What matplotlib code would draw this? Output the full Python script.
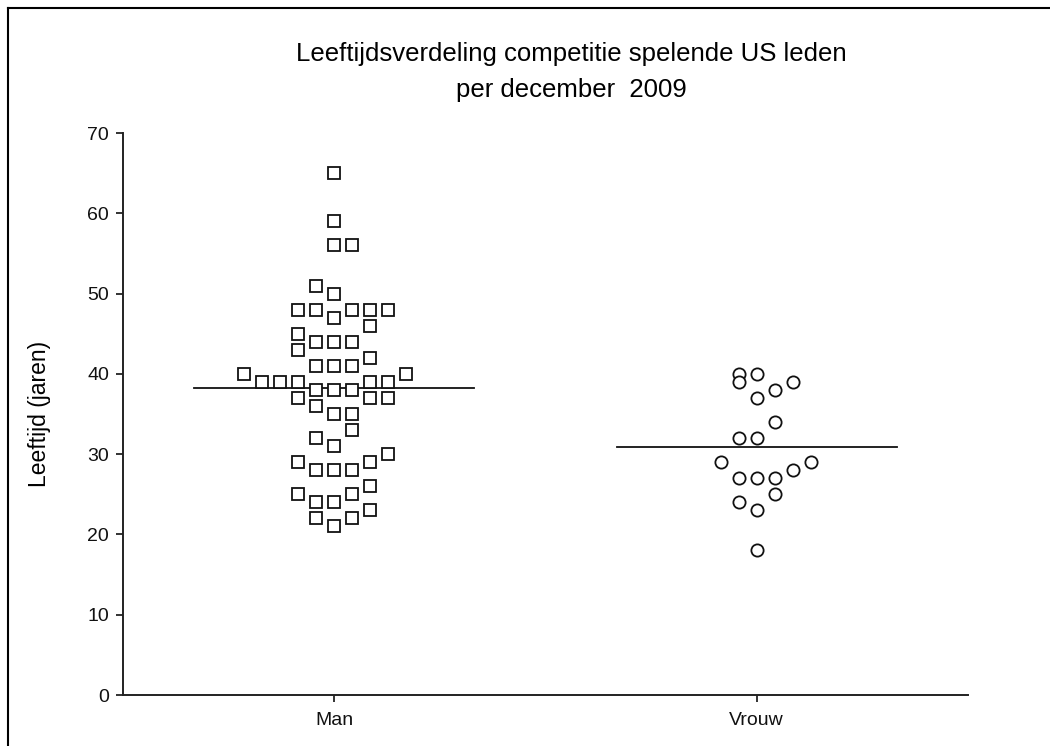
import matplotlib
matplotlib.use("Agg")
import matplotlib.pyplot as plt
import numpy as np

plt.rcParams['font.family'] = ['Liberation Sans', 'DejaVu Sans']

categories = ["Man", "Vrouw"]
man_ages = [65, 59, 56, 56, 51, 50, 48, 48, 48, 48, 48, 47, 46, 45, 44, 44, 44, 43, 42,
            41, 41, 41, 40, 40, 39, 39, 39, 39, 39, 38, 38, 38, 37, 37, 37, 36, 35, 35,
            33, 32, 31, 30, 29, 29, 28, 28, 28, 26, 25, 25, 24, 24, 23, 22, 22, 21]
# swarm column index of each point
man_cols = [0, 0, 0, 1, -1, 0, -2, -1, 1, 2, 3, 0, 2, -2, -1, 0, 1, -2, 2,
            -1, 0, 1, -5, 4, -4, -3, -2, 2, 3, -1, 0, 1, -2, 2, 3, -1, 0, 1,
            1, -1, 0, 3, -2, 2, -1, 0, 1, 2, -2, 1, -1, 0, 2, -1, 1, 0]
vrouw_ages = [40, 40, 39, 39, 38, 37, 34, 32, 32, 29, 29, 28, 27, 27, 27, 25, 24, 23, 18]
vrouw_cols = [-1, 0, -1, 2, 1, 0, 1, -1, 0, -2, 3, 2, -1, 0, 1, 1, -1, 0, 0]
yticks = [0, 10, 20, 30, 40, 50, 60, 70]

W, H = 1050, 746
fig = plt.figure(figsize=(W / 100, H / 100), dpi=100)
ax = fig.add_axes([123 / W, (H - 695) / H, (968 - 123) / W, (695 - 133) / H])

col_step = 18 / 423
half_line = 140 / 423

for i, (ages, cols, mk) in enumerate([(man_ages, man_cols, 's'), (vrouw_ages, vrouw_cols, 'o')]):
    xs = i + np.array(cols) * col_step
    ax.plot(xs, ages, linestyle='none', marker=mk, markersize=8.8,
            markerfacecolor='white', markeredgecolor='#111111', markeredgewidth=1.3,
            zorder=3)
    m = np.mean(ages)
    ax.plot([i - half_line, i + half_line], [m, m], color='#111111', lw=1.3, zorder=2)

ax.set_xlim(-0.5, 1.5)
ax.set_ylim(0, 70)
ax.set_xticks([0, 1])
ax.set_xticklabels(categories, fontsize=14)
ax.set_yticks(yticks)
ax.set_yticklabels([str(v) for v in yticks], fontsize=14)
ax.tick_params(axis='both', direction='out', length=5, width=1.2, colors='#111111')
ax.tick_params(axis='y', pad=5)
ax.tick_params(axis='x', pad=7)
for s in ['top', 'right']:
    ax.spines[s].set_visible(False)
for s in ['left', 'bottom']:
    ax.spines[s].set_linewidth(1.4)
    ax.spines[s].set_color('#222222')
ax.set_ylabel("Leeftijd (jaren)", fontsize=16.5, labelpad=26)

fig.text(571 / W, 1 - 72 / H, "Leeftijdsverdeling competitie spelende US leden\nper december  2009",
         ha='center', va='center', fontsize=18.5, linespacing=1.6)

# figure frame (left and top edges)
fig.add_artist(plt.Line2D([8 / W, 8 / W], [0, 1 - 8 / H], color='black', lw=1.5,
                          transform=fig.transFigure))
fig.add_artist(plt.Line2D([8 / W, 1], [1 - 8 / H, 1 - 8 / H], color='black', lw=1.5,
                          transform=fig.transFigure))

fig.savefig("out.png", dpi=100)
